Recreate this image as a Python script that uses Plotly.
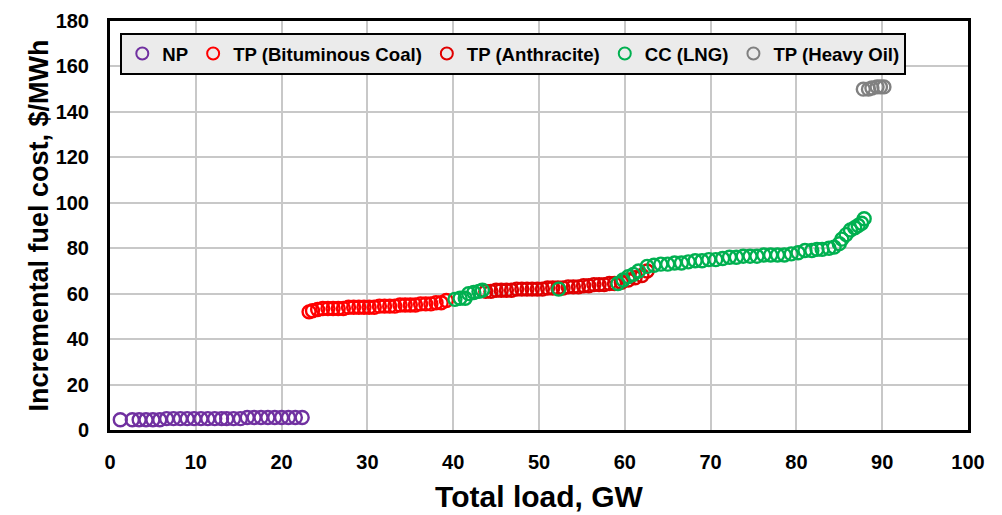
import plotly.graph_objects as go

# ---------------- data ----------------
np_x = [1.2, 2.6, 3.4, 4.2, 5.0, 5.8, 6.6, 7.4, 8.2, 9.0, 9.8, 10.6, 11.4, 12.2, 13.0,
        13.6, 14.4, 15.2, 16.0, 16.8, 17.6, 18.4, 19.2, 20.0, 20.8, 21.6, 22.4]
np_y = [4.5, 4.5, 4.5, 4.5, 4.5, 4.5, 5.0, 5.0, 5.0, 5.0, 5.0, 5.0, 5.0, 5.0, 5.0,
        5.0, 5.0, 5.0, 5.5, 5.5, 5.5, 5.5, 5.5, 5.5, 5.5, 5.5, 5.5]

bit_x = [23.2, 23.6, 24.2, 24.8, 25.4, 26.0, 26.6, 27.2, 27.8, 28.4, 29.0, 29.6, 30.2, 30.8,
         31.4, 32.0, 32.6, 33.2, 33.8, 34.4, 35.0, 35.6, 36.2, 36.8, 37.4, 38.0, 38.6, 39.2]
bit_y = [52, 52.5, 53, 53.5, 53.5, 53.5, 53.5, 53.5, 54, 54, 54, 54, 54, 54,
         54.5, 54.5, 54.5, 54.5, 55, 55, 55, 55, 55.5, 55.5, 55.5, 56, 56, 57]

ant_x = [43.8, 44.4, 45.0, 45.6, 46.2, 46.8, 47.4, 48.0, 48.6, 49.2, 49.8, 50.4, 51.0, 51.6,
         52.2, 52.8, 53.4, 54.0, 54.6, 55.2, 55.8, 56.4, 57.0, 57.6, 58.2, 58.8, 59.6, 60.4,
         61.2, 62.0, 62.6]
ant_y = [61, 61, 61.5, 61.5, 61.5, 61.5, 62, 62, 62, 62, 62, 62, 62.5, 62.5,
         62.5, 62.5, 63, 63, 63, 63.5, 63.5, 64, 64, 64, 64.5, 64.5, 65, 66,
         67, 68, 70]

lng_x = [40.2, 40.8, 41.4, 41.8, 42.4, 43.0, 43.4, 52.3, 59.2, 59.8, 60.4, 61.0, 61.6,
         62.6, 63.4, 64.2, 65.0, 65.8, 66.6, 67.4, 68.2, 69.0, 69.8, 70.6, 71.4, 72.2,
         73.0, 73.8, 74.6, 75.4, 76.2, 77.0, 77.8, 78.6, 79.4, 80.2, 81.0, 81.8, 82.4,
         83.0, 83.8, 84.4, 85.0, 85.3, 85.8, 86.3, 86.8, 87.2, 87.6, 87.9]
lng_y = [57.5, 58, 58, 60, 60.5, 61, 61.5, 62, 64.5, 66, 67.5, 68.5, 70,
         72, 72.5, 73, 73, 73.5, 73.5, 74, 74.5, 74.5, 75, 75, 75.5, 76,
         76, 76.5, 76.5, 76.5, 77, 77, 77, 77, 77.5, 78, 79, 79, 79.5,
         79.5, 80, 80.5, 82, 84, 86, 88, 89, 90, 91, 93]

oil_x = [87.8, 88.4, 88.8, 89.4, 89.8, 90.2]
oil_y = [150, 150, 150.5, 151, 151, 151]

x_ticks = [0, 10, 20, 30, 40, 50, 60, 70, 80, 90, 100]
y_ticks = [0, 20, 40, 60, 80, 100, 120, 140, 160, 180]

series = [
    ("NP", np_x, np_y, "#7030A0"),
    ("TP (Bituminous Coal)", bit_x, bit_y, "#FF0000"),
    ("TP (Anthracite)", ant_x, ant_y, "#E00000"),
    ("CC (LNG)", lng_x, lng_y, "#00B050"),
    ("TP (Heavy Oil)", oil_x, oil_y, "#808080"),
]

FONT = "Liberation Sans"

fig = go.Figure()
for name, xs, ys, col in series:
    fig.add_trace(go.Scatter(
        x=xs, y=ys, mode="markers", name=name,
        marker=dict(symbol="circle-open", size=13, color=col, line=dict(width=2.4, color=col)),
    ))

fig.update_layout(
    width=1002, height=515,
    margin=dict(l=110, r=34, t=21, b=85),
    paper_bgcolor="white", plot_bgcolor="white",
    font=dict(family=FONT, size=18, color="black"),
    showlegend=True,
    legend=dict(
        orientation="h", x=0.012, y=0.971, xanchor="left", yanchor="top",
        bgcolor="#EBEBEB", bordercolor="black", borderwidth=2,
        font=dict(family=FONT, size=18.6, color="black", weight="bold"),
        itemsizing="constant",
    ),
    xaxis=dict(
        range=[0, 100], tickvals=x_ticks, showgrid=True, gridcolor="#C8C8C8", gridwidth=1.5,
        zeroline=False, showline=True, linecolor="black", linewidth=3, mirror=True,
        ticks="", ticklabelstandoff=12, automargin=False,
        tickfont=dict(family=FONT, size=20, color="black", weight="bold"),
        title=dict(text="<b>Total load, GW</b>", font=dict(family=FONT, size=30), standoff=14),
    ),
    yaxis=dict(
        range=[0, 180], tickvals=y_ticks, showgrid=True, gridcolor="#C8C8C8", gridwidth=1.5,
        zeroline=False, showline=True, linecolor="black", linewidth=3, mirror=True,
        ticks="", ticklabelstandoff=14, automargin=False,
        tickfont=dict(family=FONT, size=20, color="black", weight="bold"),
        title=dict(text="<b>Incremental fuel cost, $/MWh</b>", font=dict(family=FONT, size=27), standoff=0),
    ),
)

fig.write_html("out.html")
